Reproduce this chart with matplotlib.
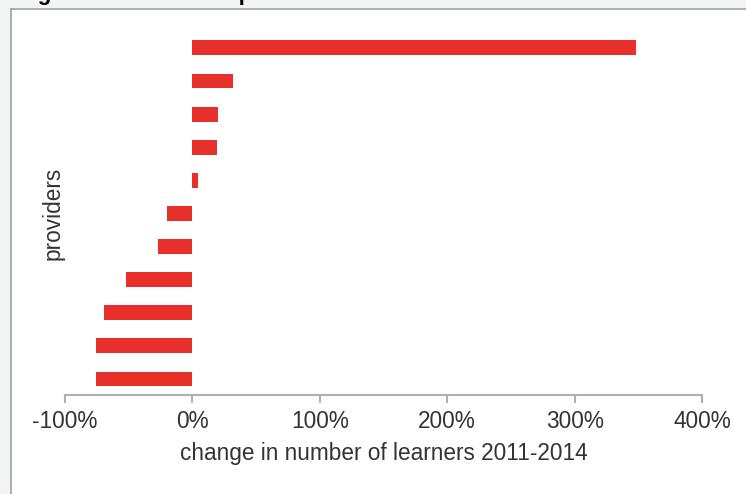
import matplotlib
matplotlib.use("Agg")
import matplotlib.pyplot as plt
from matplotlib.patches import Rectangle
from matplotlib.lines import Line2D
from matplotlib.ticker import FuncFormatter

# Data (top to bottom in chart)
providers = ["P1", "P2", "P3", "P4", "P5", "P6", "P7", "P8", "P9", "P10", "P11"]
change_pct = [348, 31.6, 20.4, 19, 4.7, -19.6, -27, -52, -69.6, -75.4, -76]
xticks = [-100, 0, 100, 200, 300, 400]

W, H = 746, 494
plt.rcParams['font.family'] = ['Liberation Sans', 'DejaVu Sans']
fig = plt.figure(figsize=(W / 100, H / 100), dpi=100, facecolor='#f3f4f6')

# white panel with thin grey border
px = lambda v: v / W
py = lambda v: 1 - v / H
fig.patches.append(Rectangle((px(11), 0), 1 - px(11), py(9.5), transform=fig.transFigure,
                             facecolor='white', edgecolor='none', zorder=-5))
fig.lines.append(Line2D([px(10.5), px(10.5)], [0, py(9.5)], transform=fig.transFigure,
                        color='#a0a0a0', lw=1.2, zorder=-4))
fig.lines.append(Line2D([px(10.5), 1], [py(9.5), py(9.5)], transform=fig.transFigure,
                        color='#a0a0a0', lw=1.2, zorder=-4))
# clipped title (only bottom visible)
fig.text(px(18), py(0), "Figure 3: Learner responses to course decline", fontsize=16,
         fontweight='bold', color='black', va='baseline', ha='left', zorder=-3)

left, right = px(65), px(702)
bottom, top = 1 - 395 / H, 1 - 9.5 / H
ax = fig.add_axes([left, bottom, right - left, top - bottom])
ax.set_zorder(5)
ax.set_facecolor('none')

n = len(change_pct)
ypos = list(range(n - 1, -1, -1))
ax.barh(ypos, change_pct, height=0.45, color='#e8302a', edgecolor='none')

ax.set_xlim(-100, 400)
ax.set_ylim(-0.483, 11.16)
ax.set_xticks(xticks)
ax.xaxis.set_major_formatter(FuncFormatter(lambda v, p: f"{int(v)}%"))
ax.set_yticks([])
for s in ['top', 'right', 'left']:
    ax.spines[s].set_visible(False)
ax.spines['bottom'].set_color('#b0b0b0')
ax.spines['bottom'].set_linewidth(1.5)
ax.tick_params(axis='x', direction='out', length=5.6, width=1.5, color='#b0b0b0',
               labelsize=16.3, labelcolor='#333333', pad=5)
ax.set_xlabel("change in number of learners 2011-2014", fontsize=16.3, color='#333333',
              labelpad=7)
ax.set_ylabel("providers", fontsize=16.3, color='#333333')
ax.yaxis.set_label_coords(0.0, 0.47)

fig.savefig("out.png", dpi=100, facecolor=fig.get_facecolor())
